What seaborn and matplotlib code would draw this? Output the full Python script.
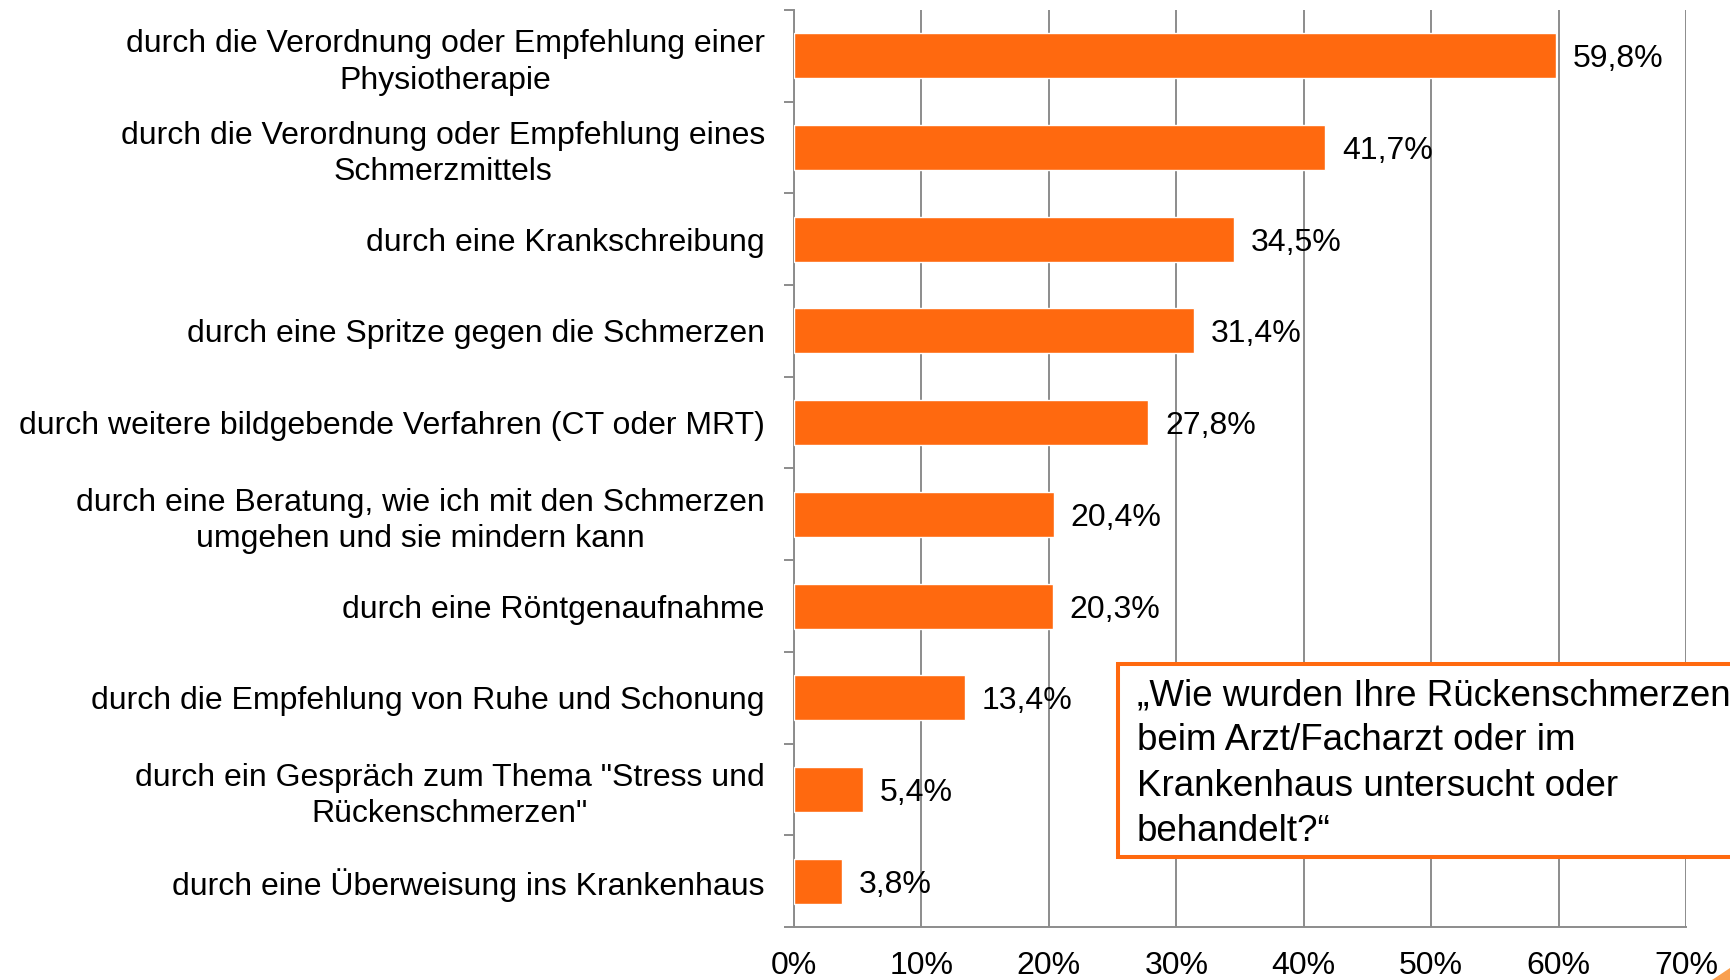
import matplotlib
matplotlib.use("Agg")
import matplotlib.pyplot as plt
from matplotlib.patches import Rectangle, Polygon
from matplotlib.ticker import FixedLocator, FuncFormatter
import seaborn as sns
import pandas as pd

categories = [
    "durch die Verordnung oder Empfehlung einer\nPhysiotherapie",
    "durch die Verordnung oder Empfehlung eines\nSchmerzmittels",
    "durch eine Krankschreibung",
    "durch eine Spritze gegen die Schmerzen",
    "durch weitere bildgebende Verfahren (CT oder MRT)",
    "durch eine Beratung, wie ich mit den Schmerzen\numgehen und sie mindern kann",
    "durch eine Röntgenaufnahme",
    "durch die Empfehlung von Ruhe und Schonung",
    "durch ein Gespräch zum Thema \"Stress und\nRückenschmerzen\"",
    "durch eine Überweisung ins Krankenhaus",
]
values = [59.8, 41.7, 34.5, 31.4, 27.8, 20.4, 20.3, 13.4, 5.4, 3.8]
value_labels = ["59,8%", "41,7%", "34,5%", "31,4%", "27,8%", "20,4%", "20,3%", "13,4%", "5,4%", "3,8%"]
x_ticks = [0, 10, 20, 30, 40, 50, 60, 70]
question = "„Wie wurden Ihre Rückenschmerzen\nbeim Arzt/Facharzt oder im\nKrankenhaus untersucht oder\nbehandelt?“"

ORANGE = "#FF690F"
GREY = "#8C8C8C"

sns.set_theme(style="white")
plt.rcParams["font.family"] = ["Liberation Sans", "DejaVu Sans"]

df = pd.DataFrame({"cat": categories, "val": values})

fig = plt.figure(figsize=(17.3, 9.8), dpi=100)
ax = fig.add_axes([794 / 1730, 1 - 927 / 980, (1686 - 794) / 1730, (927 - 10) / 980])

sns.barplot(data=df, x="val", y="cat", orient="h", color=ORANGE, width=0.49,
            saturation=1, ax=ax, zorder=3)

ax.set_xlim(0, 70)
ax.set_ylim(len(categories) - 0.5, -0.5)
ax.set_xlabel("")
ax.set_ylabel("")

# grid
ax.xaxis.set_major_locator(FixedLocator(x_ticks))
ax.xaxis.set_major_formatter(FuncFormatter(lambda v, p: f"{int(round(v))}%"))
ax.grid(axis="x", color=GREY, linewidth=1.4, zorder=0)
ax.grid(axis="y", visible=False)
ax.set_axisbelow(True)

for s in ["top", "right"]:
    ax.spines[s].set_visible(False)
for s in ["left", "bottom"]:
    ax.spines[s].set_color(GREY)
    ax.spines[s].set_linewidth(1.4)

ax.tick_params(axis="x", which="major", direction="out", length=5.8, width=1.4,
               color=GREY, labelsize=23, pad=11.5, labelcolor="black")
ax.yaxis.set_minor_locator(FixedLocator([i - 0.5 for i in range(len(categories) + 1)]))
ax.tick_params(axis="y", which="minor", direction="out", length=7.2, width=1.4, color=GREY, left=True)
ax.tick_params(axis="y", which="major", length=0, labelsize=23, pad=21, labelcolor="black")
for t in ax.get_yticklabels():
    t.set_multialignment("center")
    t.set_linespacing(1.28)

texts = ax.bar_label(ax.containers[0], labels=value_labels, padding=12, fontsize=23, color="black")
for t in texts:
    t.set_verticalalignment("center_baseline")

# question box
fig.add_artist(Rectangle((1118 / 1730, 1 - 857 / 980), 0.5, 193 / 980,
                         transform=fig.transFigure, facecolor="white",
                         edgecolor=ORANGE, linewidth=2.9, zorder=5, clip_on=False))
fig.text(1137 / 1730, 1 - 841 / 980, question, fontsize=26.5, ha="left", va="baseline",
         linespacing=1.38, color="black", zorder=6)

# corner decoration
fig.add_artist(Polygon([(1712 / 1730, 0), (1, 0), (1, 12 / 980)], closed=True,
                       transform=fig.transFigure, facecolor="#F9A050", edgecolor="none", zorder=5))

fig.savefig("out.png", dpi=100)
